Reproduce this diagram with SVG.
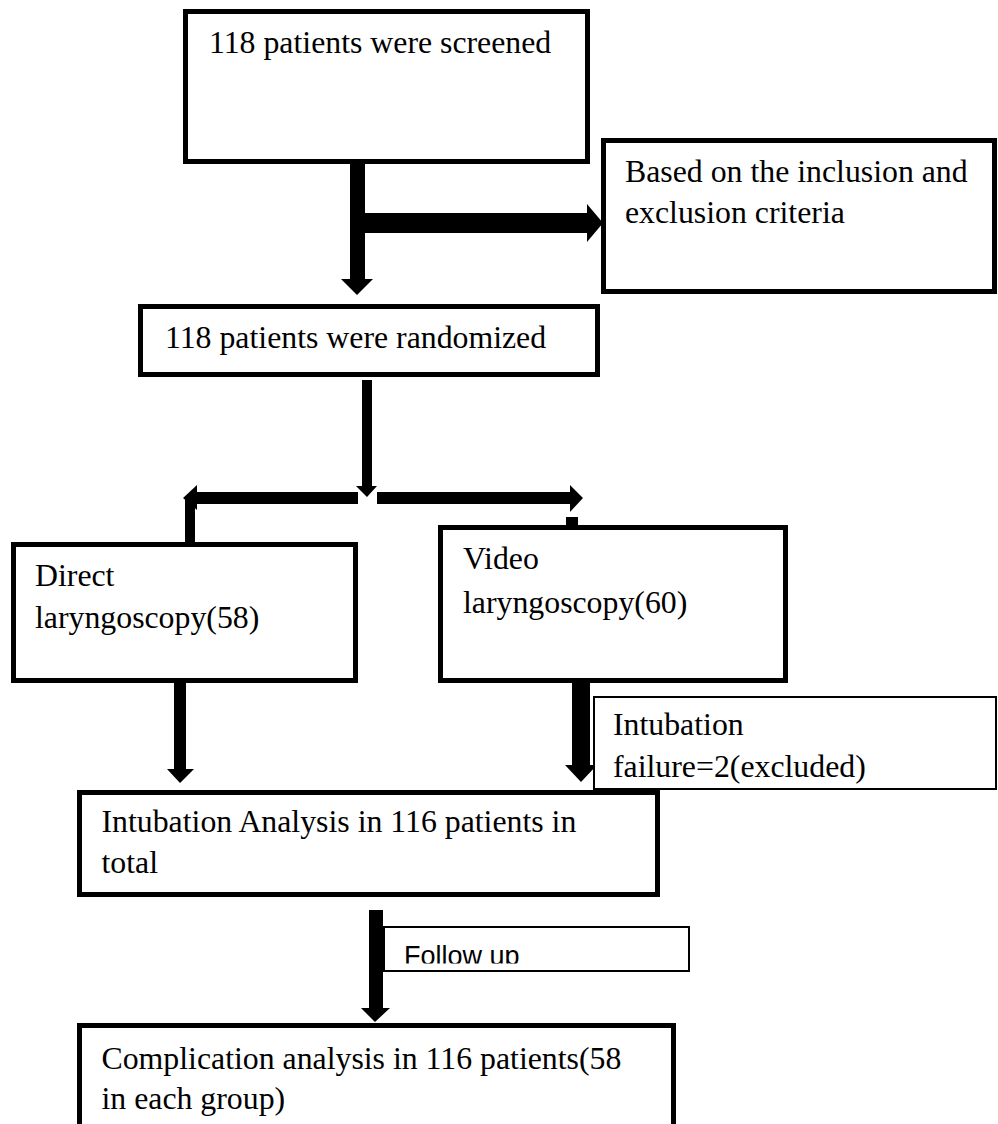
<svg xmlns="http://www.w3.org/2000/svg" width="998" height="1124" viewBox="0 0 998 1124">
<style>
.box{fill:#fff;stroke:#000;stroke-width:5}
.thin{fill:#fff;stroke:#000;stroke-width:2}
.t{font-family:"Liberation Serif","Times New Roman",serif;font-size:31.8px;fill:#000}
.s{font-family:"Liberation Sans",Arial,sans-serif;font-size:27px;fill:#000}
.a{fill:#000;stroke:none}
</style>
<defs>
<clipPath id="fuclip"><rect x="384" y="928" width="304" height="35.5"/></clipPath>
</defs>
<rect width="998" height="1124" fill="#fff"/>
<g id="connectors">
<!-- screened -> randomized -->
<polygon class="a" points="350,164 365,164 365,279 373,279 357,295 341,279 350,279"/>
<!-- branch to exclusion box -->
<polygon class="a" points="365,213 587,213 587,204 603,223 587,242 587,233 365,233"/>
<!-- randomized -> split -->
<polygon class="a" points="362,380 372,380 372,486 377,486 367,497 356,486 362,486"/>
<!-- split left -->
<polygon class="a" points="358,492 197,492 197,485 183,498 197,510 197,504 358,504"/>
<rect class="a" x="185" y="498" width="10" height="46"/>
<!-- split right -->
<polygon class="a" points="377,492 570,492 570,485 583,498 570,512 570,504 377,504"/>
<rect class="a" x="566" y="517" width="12" height="10"/>
<!-- direct -> analysis -->
<polygon class="a" points="174,683 186,683 186,769 194,769 180,783 167,769 174,769"/>
<!-- video -> analysis -->
<polygon class="a" points="572,683 590,683 590,765 597,765 581,782 565,765 572,765"/>
<!-- analysis -> complication -->
<polygon class="a" points="369,910 383,910 383,1008 390,1008 375,1022 361,1008 369,1008"/>
</g>
<g id="n-screened">
<rect class="box" x="185.5" y="11.5" width="402" height="150"/>
<text class="t" x="209" y="53">118 patients were screened</text>
</g>
<g id="n-criteria">
<rect class="box" x="603.5" y="140.5" width="391" height="151"/>
<text class="t" x="625" y="182">Based on the inclusion and</text>
<text class="t" x="625" y="223">exclusion criteria</text>
</g>
<g id="n-randomized">
<rect class="box" x="140.5" y="306.5" width="457" height="68"/>
<text class="t" x="165" y="348">118 patients were randomized</text>
</g>
<g id="n-direct">
<rect class="box" x="13.5" y="544.5" width="342" height="136"/>
<text class="t" x="35" y="586">Direct</text>
<text class="t" x="35" y="628">laryngoscopy(58)</text>
</g>
<g id="n-video">
<rect class="box" x="440.5" y="527.5" width="345" height="153"/>
<text class="t" x="463" y="569">Video</text>
<text class="t" x="463" y="613">laryngoscopy(60)</text>
</g>
<g id="n-failure">
<rect class="thin" x="594" y="697" width="402" height="92"/>
<text class="t" x="613" y="735">Intubation</text>
<text class="t" x="613" y="777">failure=2(excluded)</text>
</g>
<g id="n-analysis">
<rect class="box" x="79.5" y="792.5" width="578" height="102"/>
<text class="t" x="101.5" y="832">Intubation Analysis in 116 patients in</text>
<text class="t" x="101.5" y="873">total</text>
</g>
<g id="n-followup">
<rect class="thin" x="384" y="927" width="305" height="44"/>
<text class="s" x="404" y="965" clip-path="url(#fuclip)">Follow up</text>
</g>
<g id="n-complication">
<rect class="box" x="79.5" y="1025.5" width="594" height="110"/>
<text class="t" x="101.5" y="1069">Complication analysis in 116 patients(58</text>
<text class="t" x="101.5" y="1109">in each group)</text>
</g>
</svg>
